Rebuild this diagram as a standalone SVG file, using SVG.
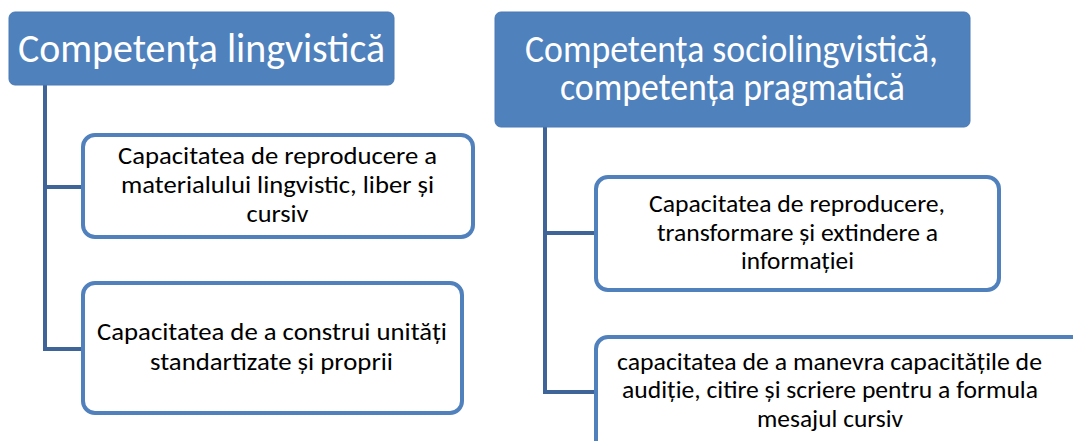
<svg xmlns="http://www.w3.org/2000/svg" width="1073" height="441" viewBox="0 0 1073 441">
<style>
.hdr{fill:#4F81BD;stroke:#4A7AB5;stroke-width:1}
.box{fill:#FFFFFF;stroke:#5081BD;stroke-width:4}
.conn{fill:none;stroke:#3F6598;stroke-width:4}
.ht{font-family:Carlito,Lato,"Open Sans",sans-serif;font-size:40px;fill:#FFFFFF;text-anchor:middle}
.ht2{font-family:Carlito,Lato,"Open Sans",sans-serif;font-size:38px;fill:#FFFFFF;text-anchor:middle}
.bt{font-family:Carlito,Lato,"Open Sans",sans-serif;font-size:24px;fill:#000000;text-anchor:middle}
</style>
<rect width="1073" height="441" fill="#FFFFFF"/>
<g id="connectors">
<polyline class="conn" points="45,85 45,349 83,349"/>
<line class="conn" x1="45" y1="187" x2="83" y2="187"/>
<polyline class="conn" points="545,127 545,392 596,392"/>
<line class="conn" x1="545" y1="233" x2="596" y2="233"/>
</g>
<g id="h1">
<rect class="hdr" x="9" y="12" width="385" height="73" rx="6"/>
<text class="ht" x="201.5" y="62" textLength="367" lengthAdjust="spacingAndGlyphs">Competența lingvistică</text>
</g>
<g id="h2">
<rect class="hdr" x="495" y="12" width="475" height="115" rx="6"/>
<text class="ht2" x="731.5" y="62" textLength="413" lengthAdjust="spacingAndGlyphs">Competența sociolingvistică,</text>
<text class="ht2" x="732.5" y="100" textLength="345" lengthAdjust="spacingAndGlyphs">competența pragmatică</text>
</g>
<g id="l1">
<rect class="box" x="83" y="135" width="390" height="102" rx="12"/>
<text class="bt" x="277.5" y="164" textLength="319" lengthAdjust="spacingAndGlyphs">Capacitatea de reproducere a</text>
<text class="bt" x="277.5" y="193" textLength="313" lengthAdjust="spacingAndGlyphs">materialului lingvistic, liber și</text>
<text class="bt" x="277.5" y="222" textLength="62" lengthAdjust="spacingAndGlyphs">cursiv</text>
</g>
<g id="l2">
<rect class="box" x="83" y="283" width="379" height="130" rx="12"/>
<text class="bt" x="272" y="340" textLength="350" lengthAdjust="spacingAndGlyphs">Capacitatea de a construi unități</text>
<text class="bt" x="271.5" y="370" textLength="243" lengthAdjust="spacingAndGlyphs">standartizate și proprii</text>
</g>
<g id="r1">
<rect class="box" x="596" y="177" width="403" height="113" rx="12"/>
<text class="bt" x="797" y="212" textLength="296" lengthAdjust="spacingAndGlyphs">Capacitatea de reproducere,</text>
<text class="bt" x="797.5" y="241" textLength="281" lengthAdjust="spacingAndGlyphs">transformare și extindere a</text>
<text class="bt" x="797.5" y="269" textLength="113" lengthAdjust="spacingAndGlyphs">informației</text>
</g>
<g id="r2">
<rect class="box" x="596" y="337" width="500" height="130" rx="12"/>
<text class="bt" x="829.5" y="370" textLength="425" lengthAdjust="spacingAndGlyphs">capacitatea de a manevra capacitățile de</text>
<text class="bt" x="830" y="398" textLength="416" lengthAdjust="spacingAndGlyphs">audiție, citire și scriere pentru a formula</text>
<text class="bt" x="830" y="427" textLength="146" lengthAdjust="spacingAndGlyphs">mesajul cursiv</text>
</g>
</svg>
